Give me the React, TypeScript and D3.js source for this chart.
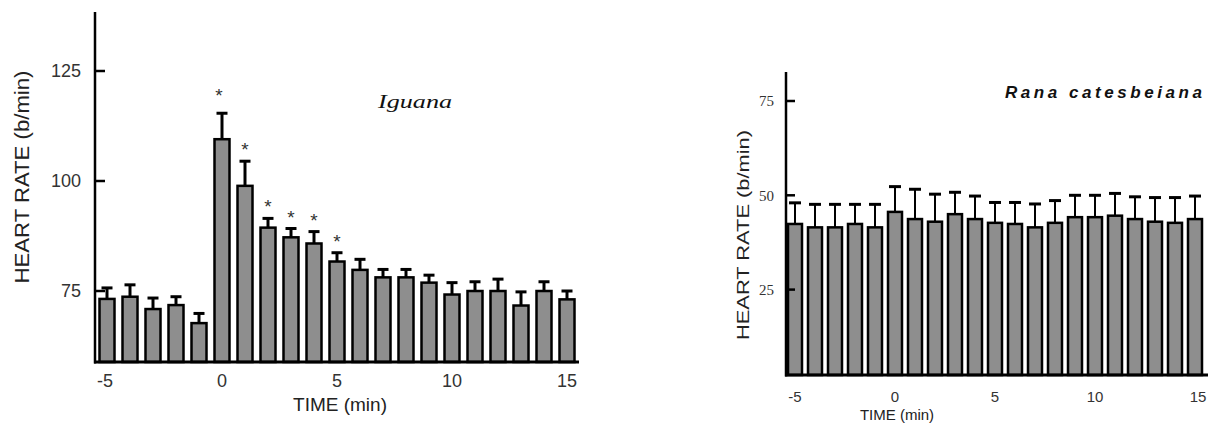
import React from 'react'
import * as d3 from 'd3'

// minutes relative to stimulus
const times = d3.range(-5, 16)

// Iguana: mean heart rate and mean + SE (b/min)
const iguanaMean = [73.2, 73.7, 70.9, 71.8, 67.7, 109.5, 98.9, 89.4, 87.2, 85.8, 81.7, 79.8, 78.1, 78.1, 76.9, 74.2, 75.0, 75.0, 71.7, 75.0, 73.1]
const iguanaUpper = [75.7, 76.4, 73.4, 73.7, 69.9, 115.4, 104.5, 91.5, 89.2, 88.5, 83.7, 82.2, 79.9, 79.9, 78.6, 76.9, 77.1, 77.7, 74.8, 77.1, 75.0]
const iguanaSignificant = [0, 1, 2, 3, 4, 5]
const iguanaTicks = [75, 100, 125]

// Rana catesbeiana
const ranaMean = [42.4, 41.5, 41.5, 42.4, 41.5, 45.6, 43.7, 43.0, 45.0, 43.7, 42.7, 42.4, 41.5, 42.7, 44.2, 44.2, 44.6, 43.7, 43.0, 42.7, 43.7]
const ranaUpper = [48.0, 47.6, 47.6, 47.6, 47.6, 52.3, 51.6, 50.3, 50.8, 49.8, 48.1, 48.1, 47.7, 48.6, 50.0, 50.0, 50.5, 49.6, 49.4, 49.4, 49.8]
const ranaTicks = [25, 50, 75]

const xTicks = [-5, 0, 5, 10, 15]

const FILL = '#8e8e8e'
const SANS = 'Arial, "Liberation Sans", sans-serif'

function Iguana() {
  const x = d3.scaleLinear().domain([0, 5]).range([222, 337])
  const y = d3.scaleLinear().domain([100, 125]).range([181, 71])
  const base = 362
  const barW = 15
  const capW = 11
  return (
    <g>
      {times.map((t, i) => (
        <g key={t}>
          <line x1={x(t)} x2={x(t)} y1={y(iguanaMean[i])} y2={y(iguanaUpper[i])} stroke="#000" strokeWidth={3} />
          <line x1={x(t) - capW / 2} x2={x(t) + capW / 2} y1={y(iguanaUpper[i])} y2={y(iguanaUpper[i])} stroke="#000" strokeWidth={3} />
          <rect x={x(t) - barW / 2} y={y(iguanaMean[i])} width={barW} height={base - y(iguanaMean[i])} fill={FILL} stroke="#000" strokeWidth={2.5} />
        </g>
      ))}
      {iguanaSignificant.map(t => {
        const i = times.indexOf(t)
        return (
          <text key={t} x={x(t) - (t === 0 ? 3 : 0)} y={y(iguanaUpper[i]) - (t === 0 ? 11 : 5)} fontSize={19} fontFamily={SANS} textAnchor="middle" fill="#333">*</text>
        )
      })}
      <line x1={95} x2={95} y1={12} y2={base + 1.5} stroke="#000" strokeWidth={2.5} />
      <line x1={94} x2={579} y1={base} y2={base} stroke="#000" strokeWidth={3} />
      {iguanaTicks.map(v => (
        <g key={v}>
          <line x1={95} x2={105} y1={y(v)} y2={y(v)} stroke="#000" strokeWidth={2.5} />
          <text x={81} y={y(v)} dy="0.35em" textAnchor="end" fontSize={18} fontFamily={SANS} fill="#333">{v}</text>
        </g>
      ))}
      {xTicks.map(t => (
        <text key={t} x={x(t) - (t < 0 ? 2 : 0)} y={381} dy="0.35em" textAnchor="middle" fontSize={18} fontFamily={SANS} fill="#333">{t}</text>
      ))}
      <text x={340} y={404} dy="0.35em" textAnchor="middle" fontSize={19} fontFamily={SANS} fill="#222">TIME (min)</text>
      <text transform="translate(22,177) rotate(-90)" dy="0.35em" textAnchor="middle" fontSize={20} fontFamily={SANS} fill="#222" textLength={213} lengthAdjust="spacingAndGlyphs">HEART RATE (b/min)</text>
      <text x={378} y={108} fontSize={19} fontStyle="italic" fontFamily='"Liberation Serif", serif' fill="#111" textLength={74} lengthAdjust="spacingAndGlyphs">Iguana</text>
    </g>
  )
}

function Rana() {
  const x = d3.scaleLinear().domain([0, 5]).range([895, 995])
  const y = d3.scaleLinear().domain([50, 75]).range([195.3, 101])
  const base = 375
  const barW = 14
  const capW = 12
  return (
    <g>
      {times.map((t, i) => (
        <g key={t}>
          <line x1={x(t)} x2={x(t)} y1={y(ranaMean[i])} y2={y(ranaUpper[i])} stroke="#000" strokeWidth={2} />
          <line x1={x(t) - capW / 2} x2={x(t) + capW / 2} y1={y(ranaUpper[i])} y2={y(ranaUpper[i])} stroke="#000" strokeWidth={3} />
          <rect x={x(t) - barW / 2} y={y(ranaMean[i])} width={barW} height={base - y(ranaMean[i])} fill={FILL} stroke="#000" strokeWidth={2.5} />
        </g>
      ))}
      <line x1={786} x2={786} y1={72} y2={base + 1.5} stroke="#000" strokeWidth={2.5} />
      <line x1={785} x2={1208} y1={base} y2={base} stroke="#000" strokeWidth={3} />
      {ranaTicks.map(v => (
        <g key={v}>
          <line x1={786} x2={795} y1={y(v)} y2={y(v)} stroke="#000" strokeWidth={2.5} />
          <text x={774} y={y(v)} dy="0.35em" textAnchor="end" fontSize={15} fontFamily='"Liberation Serif", serif' fill="#333">{v}</text>
        </g>
      ))}
      {xTicks.map(t => (
        <text key={t} x={x(t) + (t === 15 ? 3 : 0)} y={397} dy="0.35em" textAnchor="middle" fontSize={15} fontFamily={SANS} fill="#333">{t}</text>
      ))}
      <text x={897} y={415} dy="0.35em" textAnchor="middle" fontSize={15} fontFamily={SANS} fill="#222">TIME (min)</text>
      <text transform="translate(743,235) rotate(-90)" dy="0.35em" textAnchor="middle" fontSize={17} fontFamily={SANS} fill="#222" textLength={210} lengthAdjust="spacingAndGlyphs">HEART RATE (b/min)</text>
      <text x={1005} y={98} fontSize={17} fontWeight="bold" fontStyle="italic" fontFamily={SANS} fill="#111" textLength={197} lengthAdjust="spacing">Rana catesbeiana</text>
    </g>
  )
}

export default function App() {
  return (
    <svg width={1209} height={432} style={{ position: 'absolute', left: 0, top: 0, background: '#fff' }}>
      <rect width={1209} height={432} fill="#fff" />
      <Iguana />
      <Rana />
    </svg>
  )
}
